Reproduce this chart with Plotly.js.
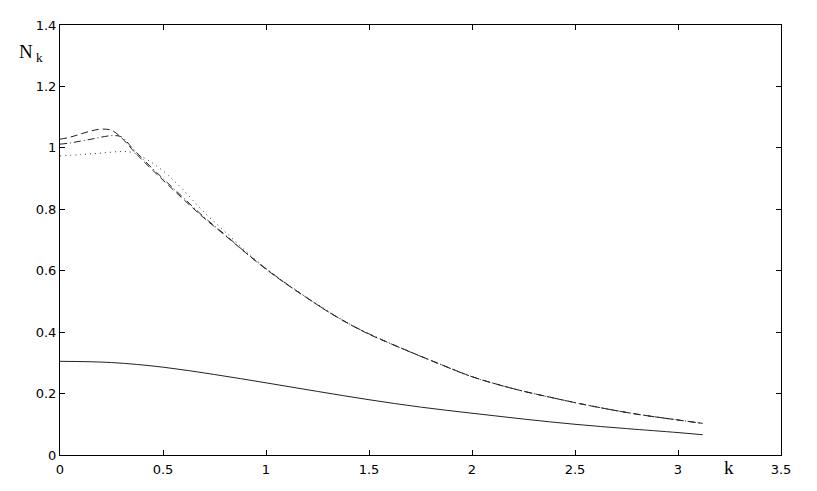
<!DOCTYPE html>
<html>
<head>
<meta charset="utf-8">
<script src="https://cdn.plot.ly/plotly-3.0.1.min.js"></script>
<style>html,body{margin:0;padding:0;background:#fff;}#plot{width:817px;height:491px;}</style>
</head>
<body>
<div id="plot"></div>
<script>
// Upper curves (dashed, dash-dot, dotted) and lower solid curve
var kDash = [0, 0.05, 0.1, 0.15, 0.2, 0.25, 0.3, 0.35, 0.4, 0.5, 0.6, 0.7, 0.8, 0.9, 1.0, 1.1, 1.2, 1.3, 1.4, 1.5, 1.6, 1.7, 1.8, 1.9, 2.0, 2.2, 2.4, 2.6, 2.8, 3.0, 3.12];
var nDash = [1.028, 1.035, 1.045, 1.055, 1.061, 1.057, 1.032, 0.995, 0.960, 0.895, 0.832, 0.771, 0.716, 0.659, 0.605, 0.556, 0.511, 0.467, 0.428, 0.393, 0.364, 0.336, 0.308, 0.281, 0.255, 0.216, 0.185, 0.157, 0.133, 0.114, 0.103];

var kDashDot = [0, 0.05, 0.1, 0.15, 0.2, 0.26, 0.3, 0.35, 0.4, 0.5, 0.6, 0.7, 0.8, 0.9, 1.0, 1.2, 1.4, 1.6, 1.8, 2.0, 2.2, 2.4, 2.6, 2.8, 3.0, 3.12];
var nDashDot = [1.012, 1.016, 1.022, 1.028, 1.035, 1.040, 1.035, 1.000, 0.965, 0.900, 0.837, 0.774, 0.718, 0.660, 0.606, 0.511, 0.428, 0.364, 0.308, 0.255, 0.216, 0.185, 0.157, 0.133, 0.114, 0.103];

var kDot = [0, 0.1, 0.2, 0.3, 0.35, 0.4, 0.45, 0.5, 0.55, 0.6, 0.7, 0.8, 0.9, 1.0, 1.2, 1.4, 1.6, 1.8, 2.0, 2.2, 2.4, 2.6, 2.8, 3.0, 3.12];
var nDot = [0.974, 0.978, 0.983, 0.988, 0.985, 0.970, 0.950, 0.925, 0.895, 0.862, 0.790, 0.728, 0.665, 0.608, 0.512, 0.429, 0.364, 0.308, 0.255, 0.216, 0.185, 0.157, 0.133, 0.114, 0.103];

var kSolid = [0, 0.25, 0.5, 0.75, 1.0, 1.25, 1.5, 1.75, 2.0, 2.25, 2.5, 2.75, 3.0, 3.12];
var nSolid = [0.305, 0.301, 0.286, 0.262, 0.235, 0.207, 0.180, 0.156, 0.136, 0.117, 0.100, 0.086, 0.073, 0.066];

var xTicks = [0, 0.5, 1, 1.5, 2, 2.5, 3, 3.5];
var xTickText = ['0', '0.5', '1', '1.5', '2', '2.5', '3', '3.5'];
var yTicks = [0, 0.2, 0.4, 0.6, 0.8, 1, 1.2, 1.4];
var yTickText = ['0', '0.2', '0.4', '0.6', '0.8', '1', '1.2', '1.4'];

var lc = '#222';
var traces = [
  {x: kSolid, y: nSolid, mode: 'lines', line: {color: lc, width: 1, shape: 'spline'}},
  {x: kDash, y: nDash, mode: 'lines', line: {color: lc, width: 1, dash: '7px,4px', shape: 'spline'}},
  {x: kDashDot, y: nDashDot, mode: 'lines', line: {color: lc, width: 1, dash: '7px,3px,1px,3px', shape: 'spline'}},
  {x: kDot, y: nDot, mode: 'lines', line: {color: '#333', width: 1, dash: '1px,4px', shape: 'spline'}}
];

var axisCommon = {
  showgrid: false, zeroline: false, showline: true, linecolor: '#000', linewidth: 1,
  mirror: 'ticks', ticks: 'inside', ticklen: 5, tickwidth: 1, tickcolor: '#000',
  tickfont: {family: 'DejaVu Sans, sans-serif', size: 13, color: '#000'},
  tickmode: 'array'
};

var layout = {
  width: 817, height: 491,
  margin: {l: 60, r: 36, t: 25, b: 36},
  paper_bgcolor: '#fff', plot_bgcolor: '#fff',
  showlegend: false,
  xaxis: Object.assign({}, axisCommon, {range: [0, 3.5], tickvals: xTicks, ticktext: xTickText, ticklabelstandoff: 2}),
  yaxis: Object.assign({}, axisCommon, {range: [0, 1.4], tickvals: yTicks, ticktext: yTickText}),
  annotations: [
    {text: 'N<sub>&nbsp;k</sub>', xref: 'paper', yref: 'paper', x: -0.040, y: 0.935, xanchor: 'center', yanchor: 'middle', showarrow: false,
     font: {family: 'Liberation Serif, Times New Roman, serif', size: 19, color: '#000'}},
    {text: 'k', xref: 'paper', yref: 'paper', x: 0.928, y: -0.030, xanchor: 'center', yanchor: 'middle', showarrow: false,
     font: {family: 'Liberation Serif, Times New Roman, serif', size: 19, color: '#000'}}
  ]
};

Plotly.newPlot('plot', traces, layout, {displayModeBar: false, staticPlot: true});
</script>
</body>
</html>
